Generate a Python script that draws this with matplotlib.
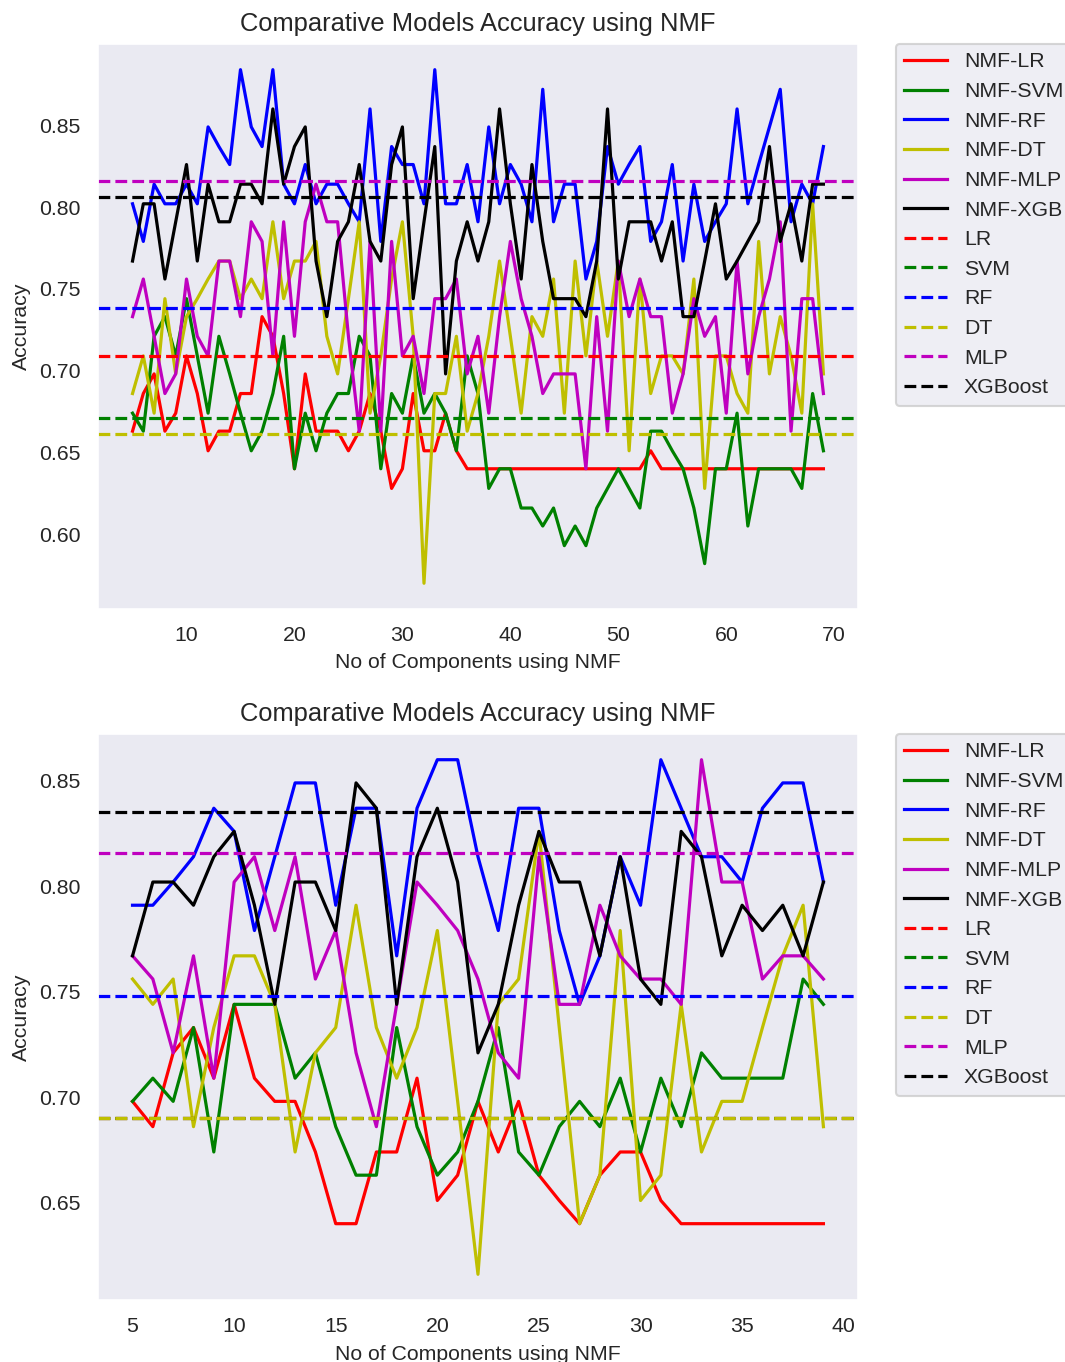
import matplotlib
matplotlib.use('Agg')
import matplotlib.pyplot as plt

plt.rcParams['font.family'] = ['Liberation Sans', 'DejaVu Sans']
plt.rcParams['axes.facecolor'] = '#EAEAF2'
plt.rcParams['axes.edgecolor'] = 'white'
plt.rcParams['axes.grid'] = False
plt.rcParams['text.color'] = '.15'
plt.rcParams['axes.labelcolor'] = '.15'
plt.rcParams['xtick.color'] = '.15'
plt.rcParams['ytick.color'] = '.15'
plt.rcParams['legend.facecolor'] = '#EAEAF2'
plt.rcParams['legend.edgecolor'] = '0.8'

# upper panel: 5..69 components
top_components = list(range(5, 70))
top_nmf_lr = [0.663, 0.686, 0.698, 0.663, 0.674, 0.709, 0.686, 0.651, 0.663, 0.663,
              0.686, 0.686, 0.733, 0.721, 0.686, 0.640, 0.698, 0.663, 0.663, 0.663,
              0.651, 0.663, 0.686, 0.663, 0.628, 0.640, 0.686, 0.651, 0.651, 0.674,
              0.651, 0.640, 0.640, 0.640, 0.640, 0.640, 0.640, 0.640, 0.640, 0.640,
              0.640, 0.640, 0.640, 0.640, 0.640, 0.640, 0.640, 0.640, 0.651, 0.640,
              0.640, 0.640, 0.640, 0.640, 0.640, 0.640, 0.640, 0.640, 0.640, 0.640,
              0.640, 0.640, 0.640, 0.640, 0.640]
top_nmf_svm = [0.674, 0.663, 0.721, 0.733, 0.709, 0.744, 0.709, 0.674, 0.721, 0.698,
               0.674, 0.651, 0.663, 0.686, 0.721, 0.640, 0.674, 0.651, 0.674, 0.686,
               0.686, 0.721, 0.709, 0.640, 0.686, 0.674, 0.709, 0.674, 0.686, 0.674,
               0.651, 0.709, 0.686, 0.628, 0.640, 0.640, 0.616, 0.616, 0.605, 0.616,
               0.593, 0.605, 0.593, 0.616, 0.628, 0.640, 0.628, 0.616, 0.663, 0.663,
               0.651, 0.640, 0.616, 0.582, 0.640, 0.640, 0.674, 0.605, 0.640, 0.640,
               0.640, 0.640, 0.628, 0.686, 0.651]
top_nmf_rf = [0.802, 0.779, 0.814, 0.802, 0.802, 0.814, 0.802, 0.849, 0.837, 0.826,
              0.884, 0.849, 0.837, 0.884, 0.814, 0.802, 0.826, 0.802, 0.814, 0.814,
              0.802, 0.791, 0.860, 0.779, 0.837, 0.826, 0.826, 0.802, 0.884, 0.802,
              0.802, 0.826, 0.791, 0.849, 0.802, 0.826, 0.814, 0.791, 0.872, 0.791,
              0.814, 0.814, 0.756, 0.779, 0.837, 0.814, 0.826, 0.837, 0.779, 0.791,
              0.826, 0.767, 0.814, 0.779, 0.791, 0.802, 0.860, 0.802, 0.826, 0.849,
              0.872, 0.791, 0.814, 0.802, 0.837]
top_nmf_dt = [0.686, 0.709, 0.674, 0.744, 0.698, 0.733, 0.744, 0.756, 0.767, 0.767,
              0.744, 0.756, 0.744, 0.791, 0.744, 0.767, 0.767, 0.779, 0.721, 0.698,
              0.744, 0.791, 0.674, 0.709, 0.756, 0.791, 0.721, 0.570, 0.686, 0.686,
              0.721, 0.663, 0.686, 0.721, 0.767, 0.721, 0.674, 0.733, 0.721, 0.756,
              0.674, 0.767, 0.709, 0.767, 0.721, 0.767, 0.651, 0.756, 0.686, 0.709,
              0.709, 0.698, 0.756, 0.628, 0.709, 0.709, 0.686, 0.674, 0.779, 0.698,
              0.733, 0.709, 0.674, 0.802, 0.698]
top_nmf_mlp = [0.733, 0.756, 0.721, 0.686, 0.698, 0.756, 0.721, 0.709, 0.767, 0.767,
               0.733, 0.791, 0.779, 0.709, 0.791, 0.721, 0.791, 0.814, 0.791, 0.791,
               0.721, 0.663, 0.779, 0.663, 0.779, 0.709, 0.721, 0.686, 0.744, 0.744,
               0.756, 0.698, 0.721, 0.674, 0.733, 0.779, 0.744, 0.721, 0.686, 0.698,
               0.698, 0.698, 0.640, 0.733, 0.663, 0.767, 0.733, 0.756, 0.733, 0.733,
               0.674, 0.698, 0.744, 0.721, 0.733, 0.674, 0.767, 0.698, 0.733, 0.756,
               0.791, 0.663, 0.744, 0.744, 0.686]
top_nmf_xgb = [0.767, 0.802, 0.802, 0.756, 0.791, 0.826, 0.767, 0.814, 0.791, 0.791,
               0.814, 0.814, 0.802, 0.860, 0.814, 0.837, 0.849, 0.767, 0.733, 0.779,
               0.791, 0.826, 0.779, 0.767, 0.826, 0.849, 0.744, 0.791, 0.837, 0.698,
               0.767, 0.791, 0.767, 0.791, 0.860, 0.802, 0.756, 0.826, 0.779, 0.744,
               0.744, 0.744, 0.733, 0.767, 0.860, 0.756, 0.791, 0.791, 0.791, 0.767,
               0.791, 0.733, 0.733, 0.767, 0.802, 0.756, 0.767, 0.779, 0.791, 0.837,
               0.779, 0.802, 0.767, 0.814, 0.814]
# baselines without NMF: LR, SVM, RF, DT, MLP, XGBoost
top_baseline = [0.709, 0.671, 0.738, 0.661, 0.816, 0.806]

# lower panel: 5..39 components
bottom_components = list(range(5, 40))
bottom_nmf_lr = [0.698, 0.686, 0.721, 0.733, 0.709, 0.744, 0.709, 0.698, 0.698, 0.674,
                 0.640, 0.640, 0.674, 0.674, 0.709, 0.651, 0.663, 0.698, 0.674, 0.698,
                 0.663, 0.651, 0.640, 0.663, 0.674, 0.674, 0.651, 0.640, 0.640, 0.640,
                 0.640, 0.640, 0.640, 0.640, 0.640]
bottom_nmf_svm = [0.698, 0.709, 0.698, 0.733, 0.674, 0.744, 0.744, 0.744, 0.709, 0.721,
                  0.686, 0.663, 0.663, 0.733, 0.686, 0.663, 0.674, 0.698, 0.733, 0.674,
                  0.663, 0.686, 0.698, 0.686, 0.709, 0.674, 0.709, 0.686, 0.721, 0.709,
                  0.709, 0.709, 0.709, 0.756, 0.744]
bottom_nmf_rf = [0.791, 0.791, 0.802, 0.814, 0.837, 0.826, 0.779, 0.814, 0.849, 0.849,
                 0.791, 0.837, 0.837, 0.767, 0.837, 0.860, 0.860, 0.814, 0.779, 0.837,
                 0.837, 0.779, 0.744, 0.767, 0.814, 0.791, 0.860, 0.837, 0.814, 0.814,
                 0.802, 0.837, 0.849, 0.849, 0.802]
bottom_nmf_dt = [0.756, 0.744, 0.756, 0.686, 0.733, 0.767, 0.767, 0.744, 0.674, 0.721,
                 0.733, 0.791, 0.733, 0.709, 0.733, 0.779, 0.698, 0.616, 0.744, 0.756,
                 0.826, 0.733, 0.640, 0.663, 0.779, 0.651, 0.663, 0.744, 0.674, 0.698,
                 0.698, 0.733, 0.767, 0.791, 0.686]
bottom_nmf_mlp = [0.767, 0.756, 0.721, 0.767, 0.709, 0.802, 0.814, 0.779, 0.814, 0.756,
                  0.779, 0.721, 0.686, 0.744, 0.802, 0.791, 0.779, 0.756, 0.721, 0.709,
                  0.814, 0.744, 0.744, 0.791, 0.767, 0.756, 0.756, 0.744, 0.860, 0.802,
                  0.802, 0.756, 0.767, 0.767, 0.756]
bottom_nmf_xgb = [0.767, 0.802, 0.802, 0.791, 0.814, 0.826, 0.791, 0.744, 0.802, 0.802,
                  0.779, 0.849, 0.837, 0.744, 0.814, 0.837, 0.802, 0.721, 0.744, 0.791,
                  0.826, 0.802, 0.802, 0.767, 0.814, 0.756, 0.744, 0.826, 0.814, 0.767,
                  0.791, 0.779, 0.791, 0.767, 0.802]
bottom_baseline = [0.690, 0.690, 0.748, 0.690, 0.816, 0.835]

model_names = ['LR', 'SVM', 'RF', 'DT', 'MLP', 'XGB']
base_names = ['LR', 'SVM', 'RF', 'DT', 'MLP', 'XGBoost']
colors = ['r', 'g', 'b', 'y', 'm', 'k']


def draw_panel(ax, x, series, baseline):
    for name, ys, c in zip(model_names, series, colors):
        ax.plot(x, ys, color=c, label='NMF-' + name)
    for name, b, c in zip(base_names, baseline, colors):
        ax.axhline(b, color=c, linestyle='--', label=name)
    ax.set_title('Comparative Models Accuracy using NMF')
    ax.set_xlabel('No of Components using NMF')
    ax.set_ylabel('Accuracy')
    ax.tick_params(length=0, pad=8)
    ax.legend(loc='upper left', bbox_to_anchor=(1.05, 1), borderaxespad=0.)


fig = plt.figure(figsize=(1065 / 153, 1362 / 153), dpi=153)
ax1 = fig.add_axes([0.092, 0.5529, 0.7136, 0.4148])
ax2 = fig.add_axes([0.092, 0.0455, 0.7136, 0.4156])

draw_panel(ax1, top_components,
           [top_nmf_lr, top_nmf_svm, top_nmf_rf, top_nmf_dt, top_nmf_mlp, top_nmf_xgb],
           top_baseline)
draw_panel(ax2, bottom_components,
           [bottom_nmf_lr, bottom_nmf_svm, bottom_nmf_rf, bottom_nmf_dt, bottom_nmf_mlp, bottom_nmf_xgb],
           bottom_baseline)

fig.savefig('out.png', dpi=153)
